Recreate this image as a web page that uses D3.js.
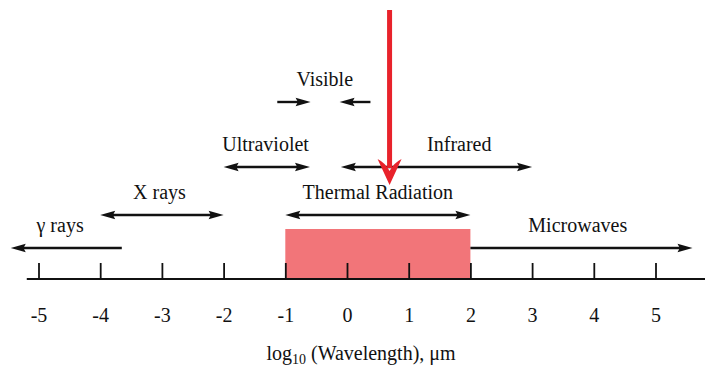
<!DOCTYPE html>
<html>
<head>
<meta charset="utf-8">
<script src="https://cdn.jsdelivr.net/npm/d3@7"></script>
<style>
  html, body { margin: 0; padding: 0; background: #fff; }
  svg { display: block; }
  svg text { font-family: "Liberation Serif", "Tinos", "Times New Roman", "DejaVu Serif", serif !important; fill: #111; }
</style>
</head>
<body>
<div id="chart"></div>
<script>
// Electromagnetic spectrum on a log10(wavelength in µm) axis
const tickValues = [-5, -4, -3, -2, -1, 0, 1, 2, 3, 4, 5];
const axisExtent = [-5.19, 5.81];

// Bands: name, start, end (arrow tips), label position
const bandNames  = ["γ rays", "X rays", "Ultraviolet", "Infrared", "Thermal Radiation", "Microwaves"];
const bandFrom   = [-3.65, -4.0, -2.0, -0.1, -1.0, 2.0];
const bandTo     = [-5.45, -2.0, -0.6,  3.0,  2.0, 5.6];
const bandArrows = ["end", "both", "both", "both", "both", "end"];
const bandRow    = [0, 1, 2, 2, 1, 0];
const bandLabelX = [-4.65, -3.04, -1.32, 1.82, 0.5, 3.74];

// Visible band: two arrows pointing in from each side
const visibleName = "Visible";
const visibleFrom = [-1.13, 0.38];
const visibleTo   = [-0.59, -0.12];
const visibleLabelX = -0.36;

// Thermal radiation region and the incoming solar peak marker
const thermalRange = [-1, 2];
const peakMarker = 0.69;

const width = 705, height = 367;
const axisY = 279;
const rowY = [248, 215, 167, 102];
const labelOffset = 16;
const serif = "'Liberation Serif', Tinos, 'Times New Roman', serif";

const x = d3.scaleLinear().domain([-5, 5]).range([38.5, 655.5]);

const svg = d3.select("#chart").append("svg")
  .attr("width", width).attr("height", height)
  .attr("font-family", serif);

// Shaded thermal region
svg.append("rect")
  .attr("x", x(thermalRange[0]))
  .attr("y", axisY - 50)
  .attr("width", x(thermalRange[1]) - x(thermalRange[0]))
  .attr("height", 50)
  .attr("fill", "#f27579");

// Axis
const axis = d3.axisBottom(x)
  .tickValues(tickValues)
  .tickSizeInner(-16)
  .tickSizeOuter(0)
  .tickPadding(29)
  .tickFormat(d3.format("d"));

const gAxis = svg.append("g")
  .attr("transform", `translate(0,${axisY})`)
  .call(axis)
  .attr("font-family", serif)
  .attr("font-size", 20);
gAxis.select(".domain").remove();
gAxis.selectAll(".tick line").attr("stroke", "#111").attr("stroke-width", 1.8);
gAxis.selectAll(".tick text")
  .attr("fill", "#111")
  .text(d => d < 0 ? "-" + Math.abs(d) : d);

svg.append("line")
  .attr("x1", x(axisExtent[0])).attr("x2", x(axisExtent[1]))
  .attr("y1", axisY).attr("y2", axisY)
  .attr("stroke", "#111").attr("stroke-width", 2.2);

// Arrowhead helper: filled triangle with its tip at (tx, y)
function head(g, tx, y, dir) {
  const len = 15, half = 4.2;
  g.append("path")
    .attr("d", `M${tx},${y} L${tx - dir * len},${y - half} L${tx - dir * len * 0.85},${y} L${tx - dir * len},${y + half} Z`)
    .attr("fill", "#111");
}

function arrow(g, a, b, y, mode) {
  const xa = x(a), xb = x(b);
  const dir = Math.sign(xb - xa);
  g.append("line")
    .attr("x1", mode === "both" ? xa + dir * 8 : xa)
    .attr("x2", xb - dir * 8)
    .attr("y1", y).attr("y2", y)
    .attr("stroke", "#111").attr("stroke-width", 2.4);
  head(g, xb, y, dir);
  if (mode === "both") head(g, xa, y, -dir);
}

const gBands = svg.append("g");
bandNames.forEach((name, i) => {
  const y = rowY[bandRow[i]];
  arrow(gBands, bandFrom[i], bandTo[i], y, bandArrows[i]);
  gBands.append("text")
    .attr("x", x(bandLabelX[i]))
    .attr("y", y - labelOffset)
    .attr("text-anchor", "middle")
    .attr("font-size", 20)
    .text(name);
});

visibleFrom.forEach((a, i) => arrow(gBands, a, visibleTo[i], rowY[3], "end"));
gBands.append("text")
  .attr("x", x(visibleLabelX))
  .attr("y", rowY[3] - labelOffset)
  .attr("text-anchor", "middle")
  .attr("font-size", 20)
  .text(visibleName);

// Axis title with subscript
const title = svg.append("text")
  .attr("x", 361).attr("y", 360)
  .attr("text-anchor", "middle")
  .attr("font-size", 20);
title.append("tspan").text("log");
title.append("tspan").attr("font-size", 14).attr("dy", 4).text("10");
title.append("tspan").attr("dy", -4).text(" (Wavelength), μm");

// Red marker arrow coming down from the top
const px = x(peakMarker);
const red = "#e8222b";
svg.append("line")
  .attr("x1", px).attr("x2", px)
  .attr("y1", 10).attr("y2", 168)
  .attr("stroke", red).attr("stroke-width", 5);
svg.append("path")
  .attr("d", `M${px},185 L${px - 12},159 Q${px - 4},163 ${px},171 Q${px + 4},163 ${px + 12},159 Z`)
  .attr("fill", red);
</script>
</body>
</html>
